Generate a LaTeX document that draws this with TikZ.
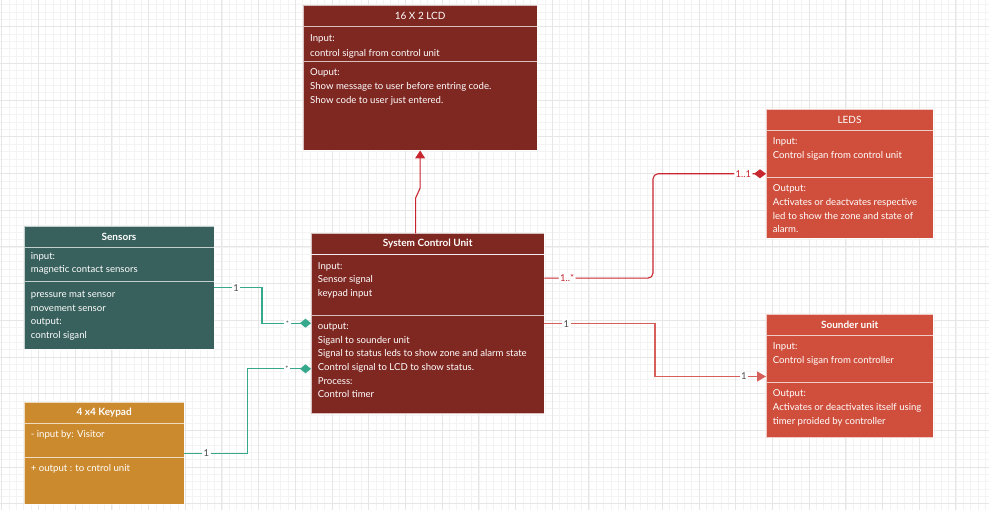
\documentclass[tikz,border=0pt]{standalone}
\usepackage{fontspec}
\setmainfont{Lato}
\usetikzlibrary{positioning,arrows.meta}

\definecolor{lcdred}{HTML}{7F2822}
\definecolor{ledred}{HTML}{D04F3C}
\definecolor{senteal}{HTML}{38615D}
\definecolor{kporange}{HTML}{CC8A2E}
\definecolor{linkred}{HTML}{C8262E}
\definecolor{linkpink}{HTML}{D65F5A}
\definecolor{linkteal}{HTML}{36A88C}
\definecolor{gridmajor}{HTML}{E6E6E6}
\definecolor{gridminor}{HTML}{F3F3F3}

\tikzset{
  box/.style={fill=#1, draw=white, draw opacity=0.7, line width=0.8pt,
    inner sep=0pt, outer sep=0pt, text=white, anchor=north west},
  hdr/.style={box=#1, minimum height=21.5pt, font=\fontsize{10}{12}\selectfont},
  bold/.style={font=\fontsize{10}{12}\selectfont\bfseries},
  body/.style={anchor=north west, xshift=6.7pt, yshift=-7.3pt, inner sep=0pt,
    text=white, align=left, font=\fontsize{9.6}{13.7}\selectfont,
    execute at begin node=\strut},
  link/.style={line width=1.1pt},
  lbl/.style={fill=white, inner sep=1.5pt, text=black!70,
    font=\fontsize{9.5}{10}\selectfont},
  star/.style={lbl, font=\fontsize{7.5}{7.5}\selectfont},
}

\begin{document}
\begin{tikzpicture}[x=1pt, y=-1pt]
	\useasboundingbox (0,0) rectangle (989,510);
	% background grid
	\begin{scope}
		\clip (0,0) rectangle (989,510);
		\foreach \k in {0,...,134}
			\draw[gridminor, line width=0.6pt] (1.7+7.34*\k,0) -- (1.7+7.34*\k,510);
		\foreach \k in {0,...,70}
			\draw[gridminor, line width=0.6pt] (0,-2.66+7.34*\k) -- (989,-2.66+7.34*\k);
		\foreach \k in {0,...,26}
			\draw[gridmajor, line width=0.9pt] (1.7+36.7*\k,0) -- (1.7+36.7*\k,510);
		\foreach \k in {0,...,13}
			\draw[gridmajor, line width=0.9pt] (0,26.7+36.7*\k) -- (989,26.7+36.7*\k);
	\end{scope}

	% 16 X 2 LCD
	\node[hdr=lcdred, minimum width=233.7pt] (lcd) at (303.3,5) {16 X 2 LCD};
	\node[box=lcdred, minimum width=233.7pt, minimum height=35pt, below=0pt of lcd] (lcd-in) {};
	\node[box=lcdred, minimum width=233.7pt, minimum height=89pt, below=0pt of lcd-in] (lcd-out) {};
	\node[body, yshift=-0.5pt] (lcd-in-txt) at (lcd-in.north west) {Input:\\[1pt]control signal from control unit};
	\node[body] (lcd-out-txt) at (lcd-out.north west) {Ouput:\\Show message to user before entring code.\\Show code to user just entered.};

	% LEDS
	\node[hdr=ledred, minimum width=167pt] (leds) at (766,109) {LEDS};
	\node[box=ledred, minimum width=167pt, minimum height=46.7pt, below=0pt of leds] (leds-in) {};
	\node[box=ledred, minimum width=167pt, minimum height=61pt, below=0pt of leds-in] (leds-out) {};
	\node[body] (leds-in-txt) at (leds-in.north west) {Input:\\Control sigan from control unit};
	\node[body] (leds-out-txt) at (leds-out.north west) {Output:\\Activates or deactvates respective\\led to show the zone and state of\\alarm.};

	% Sensors
	\node[hdr=senteal, bold, minimum width=190pt] (sens) at (24,226) {Sensors};
	\node[box=senteal, minimum width=190pt, minimum height=34pt, below=0pt of sens] (sens-in) {};
	\node[box=senteal, minimum width=190pt, minimum height=67.7pt, below=0pt of sens-in] (sens-out) {};
	\node[body, yshift=3pt] (sens-in-txt) at (sens-in.north west) {input:\\magnetic contact sensors};
	\node[body, yshift=-2pt] (sens-out-txt) at (sens-out.north west) {pressure mat sensor\\movement sensor\\output:\\control siganl};

	% System Control Unit
	\node[hdr=lcdred, bold, minimum width=233.3pt] (scu) at (311,233.3) {System Control Unit};
	\node[box=lcdred, minimum width=233.3pt, minimum height=60.7pt, below=0pt of scu] (scu-in) {};
	\node[box=lcdred, minimum width=233.3pt, minimum height=98.3pt, below=0pt of scu-in] (scu-out) {};
	\node[body] (scu-in-txt) at (scu-in.north west) {Input:\\Sensor signal\\keypad input};
	\node[body] (scu-out-txt) at (scu-out.north west) {output:\\Siganl to sounder unit\\Signal to status leds to show zone and alarm state\\Control signal to LCD to show status.\\Process:\\Control timer};

	% Sounder unit
	\node[hdr=ledred, bold, minimum width=167.3pt] (snd) at (766,314) {Sounder unit};
	\node[box=ledred, minimum width=167.3pt, minimum height=46.7pt, below=0pt of snd] (snd-in) {};
	\node[box=ledred, minimum width=167.3pt, minimum height=55.6pt, below=0pt of snd-in] (snd-out) {};
	\node[body] (snd-in-txt) at (snd-in.north west) {Input:\\Control sigan from controller};
	\node[body] (snd-out-txt) at (snd-out.north west) {Output:\\Activates or deactivates itself using\\timer proided by controller};

	% 4 x4 Keypad
	\node[hdr=kporange, bold, minimum width=160.3pt] (kp) at (24,402) {4 x4 Keypad};
	\node[box=kporange, minimum width=160.3pt, minimum height=34pt, below=0pt of kp] (kp-in) {};
	\node[box=kporange, minimum width=160.3pt, minimum height=46.7pt, below=0pt of kp-in] (kp-out) {};
	\node[body, yshift=3pt] (kp-in-txt) at (kp-in.north west) {- input by: Visitor};
	\node[body, yshift=3pt] (kp-out-txt) at (kp-out.north west) {+ output : to cntrol unit};

	% connectors
	\draw[link, linkred, -{Triangle[length=8pt,width=10pt]}]
		([xshift=-12pt]scu.north) -- ++(0,-35.3) -- ++(4.5,-10) -- (lcd-out.south);
	\draw[link, linkred, rounded corners=5pt, -{Diamond[length=12pt,width=9pt]}]
		([yshift=7pt]scu-in.east) -- node[lbl, text=linkred, pos=0.21] {1..*} ++(108.7,0)
		|- node[lbl, text=linkred, pos=0.9] {1..1} ([yshift=3.4pt]leds-in.south west);
	\draw[link, linkpink, -{Triangle[length=9pt,width=10pt]}]
		([yshift=-8.3pt]scu-out.north east) -- node[lbl, pos=0.2] {1} ++(110.7,0)
		|- node[lbl, pos=0.9] {1} ([yshift=5.7pt]snd-in.south west);
	\draw[link, linkteal, -{Diamond[length=11pt,width=9pt]}]
		([yshift=-6.3pt]sens-out.north east) -- node[lbl, pos=0.46] {1} ++(48,0)
		|- node[star, pos=0.76] {*} ([yshift=-7.7pt]scu-out.north west);
	\draw[link, linkteal, -{Diamond[length=11pt,width=9pt]}]
		([yshift=4pt]kp-in.south east) -- node[lbl, pos=0.35] {1} ++(63.4,0)
		|- node[star, pos=0.81] {*} ([yshift=-53.3pt]scu-out.north west);
\end{tikzpicture}
\end{document}
